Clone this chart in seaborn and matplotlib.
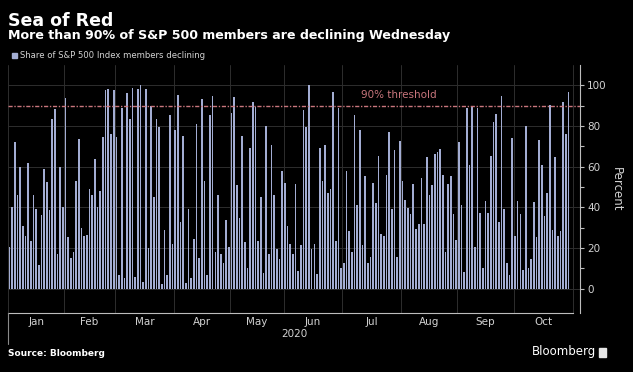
import numpy as np
import matplotlib
matplotlib.use("Agg")
import matplotlib.pyplot as plt
from matplotlib.lines import Line2D
from matplotlib.patches import Rectangle
import seaborn as sns

# share of S&P 500 members declining, one value per trading day
months = ["Jan", "Feb", "Mar", "Apr", "May", "Jun", "Jul", "Aug", "Sep", "Oct"]
jan = [20.5, 40, 72, 46, 60, 31, 26, 62, 23.5, 46, 39, 11.5, 36, 59, 52.5, 38.5, 83.6, 88.6, 17, 60, 40]
feb = [94, 25.5, 15, 18, 53, 73.5, 29.6, 26, 26.6, 49, 46, 64, 40, 48, 74.5, 97.5, 98.4, 76, 97.5]
mar = [74.5, 6.6, 89, 5, 96, 83.6, 98.8, 5.8, 98.4, 100, 3.4, 98.4, 20, 90, 45, 83.6, 79.5, 2.5, 28.8, 6.6, 85.6, 22]
apr = [78, 95, 33, 75, 3, 39.4, 5, 24.6, 80.8, 15, 93.5, 53, 6.6, 85.3, 94.8, 18, 46, 17, 12.4, 33.6, 20.5]
may = [86.6, 94.3, 51, 34.5, 75, 23, 10, 69, 92, 89.4, 23.3, 45, 7.5, 80, 16.8, 70.5, 46, 19.7, 14.8, 58]
jun = [52, 31, 22, 17, 51.6, 8.6, 21.4, 87.8, 79.5, 100, 19.4, 22, 7, 69, 52.8, 70.5, 47, 49, 96.7, 23.3, 88.8, 10]
jul = [12.4, 58, 28.3, 17.8, 85.6, 41, 78, 21.4, 55.5, 12.8, 15.6, 52, 42, 65, 27, 26, 56, 77, 39.4, 68, 15.6, 72.8]
aug = [53, 43.5, 39.7, 36.5, 51.7, 29.3, 32, 54.5, 31.7, 64.8, 46, 51, 66, 67.2, 68.5, 56, 18, 51.7, 55.5, 36.5, 23.8]
sep = [72, 41, 8.3, 89, 61, 89.9, 20.5, 89, 37, 10, 43, 37.4, 65, 82, 86, 33, 94.8, 39.4, 12.8, 6.6, 74]
oct_ = [25.8, 43.3, 36.5, 9, 80, 10, 14.4, 42.4, 25.2, 73.3, 61, 35.7, 46.8, 90.5, 29, 64.5, 26, 28.5, 92, 76, 96.7]
threshold = 90

by_month = [jan, feb, mar, apr, may, jun, jul, aug, sep, oct_]
values = np.concatenate(by_month)
days = np.arange(len(values))

# month boundaries (Oct runs one slot past the last bar, to month end)
bounds = np.concatenate([[0], np.cumsum([len(m) for m in by_month])]) - 0.5
bounds[-1] += 1
centers = (bounds[:-1] + bounds[1:]) / 2

bar_color = "#a3add3"
text_col = "#d2d2d2"
grid_col = "#2e2e2e"
red = "#c9767d"

sns.set_style("dark")
plt.rcParams["font.family"] = ["DejaVu Sans"]

fig = plt.figure(figsize=(6.33, 3.72), dpi=100, facecolor="black")
ax = fig.add_axes([8 / 633, 1 - 313 / 372, 572 / 633, 248 / 372], facecolor="black")

sns.barplot(x=days, y=values, color=bar_color, saturation=1, width=0.62,
            native_scale=True, linewidth=0, ax=ax)

ax.set_xlim(-0.5, 213.3)
ax.set_ylim(-12, 110)

# grid
for b in bounds:
    ax.axvline(b, color=grid_col, lw=0.7, zorder=0)
for v in range(0, 101, 20):
    ax.axhline(v, color=grid_col, lw=0.7, zorder=0)
ax.grid(False)

# threshold line
ax.axhline(threshold, color=red, lw=1.0, ls=(0, (3, 1.2, 1, 1.2)), zorder=3)
ax.text(145.5, threshold + 3, "90% threshold", color=red, fontsize=7.5,
        ha="center", va="bottom")

# axes styling
for s in ["top", "left"]:
    ax.spines[s].set_visible(False)
ax.spines["bottom"].set_color("#bdbdbd")
ax.spines["bottom"].set_linewidth(0.8)
ax.spines["bottom"].set_bounds(bounds[0], bounds[-1])
ax.spines["right"].set_color("#bdbdbd")
ax.spines["right"].set_linewidth(0.8)

ax.yaxis.tick_right()
ax.yaxis.set_label_position("right")
ax.set_yticks(range(0, 101, 20))
ax.set_yticks(range(10, 100, 20), minor=True)
ax.tick_params(axis="y", which="both", direction="out", length=3, width=0.8,
               colors="#bdbdbd", labelcolor=text_col, labelsize=7.5, pad=2)
ax.set_ylabel("Percent", color=text_col, fontsize=8.5, rotation=270, labelpad=12)

ax.set_xticks(bounds)
ax.set_xticklabels([])
ax.tick_params(axis="x", which="major", direction="in", length=3, width=0.8,
               colors="#bdbdbd")
ax.set_xticks(centers, minor=True)
ax.set_xticklabels(months, minor=True)
ax.tick_params(axis="x", which="minor", length=0, labelcolor=text_col,
               labelsize=7.5, pad=3)
ax.set_xlabel("2020", color=text_col, fontsize=7.5, labelpad=1)

# year separator below the axis
fig.add_artist(Line2D([8 / 633, 8 / 633], [1 - 313 / 372, 1 - 344 / 372],
                      color="#8a8a8a", lw=0.8))

# titles and legend
fig.text(8 / 633, 1 - 12 / 372, "Sea of Red", color="white", fontsize=12.5,
         fontweight="bold", va="top")
fig.text(8 / 633, 1 - 29 / 372, "More than 90% of S&P 500 members are declining Wednesday",
         color="white", fontsize=9.1, fontweight="bold", va="top")
fig.add_artist(Rectangle((12 / 633, 1 - 58 / 372), 5 / 633, 5 / 372,
                         transform=fig.transFigure, color=bar_color))
fig.text(20 / 633, 1 - 55.5 / 372, "Share of S&P 500 Index members declining",
         color=text_col, fontsize=6.1, va="center")

# footer
fig.text(8 / 633, 1 - 353 / 372, "Source: Bloomberg", color="white", fontsize=6.5,
         fontweight="bold", va="center")
fig.text(596 / 633, 1 - 352 / 372, "Bloomberg", color="white", fontsize=8.5,
         ha="right", va="center")
fig.add_artist(Rectangle((599 / 633, 1 - 357 / 372), 7 / 633, 9 / 372,
                         transform=fig.transFigure, color="#e6e6e6"))

fig.savefig("out.png", dpi=100, facecolor="black")
